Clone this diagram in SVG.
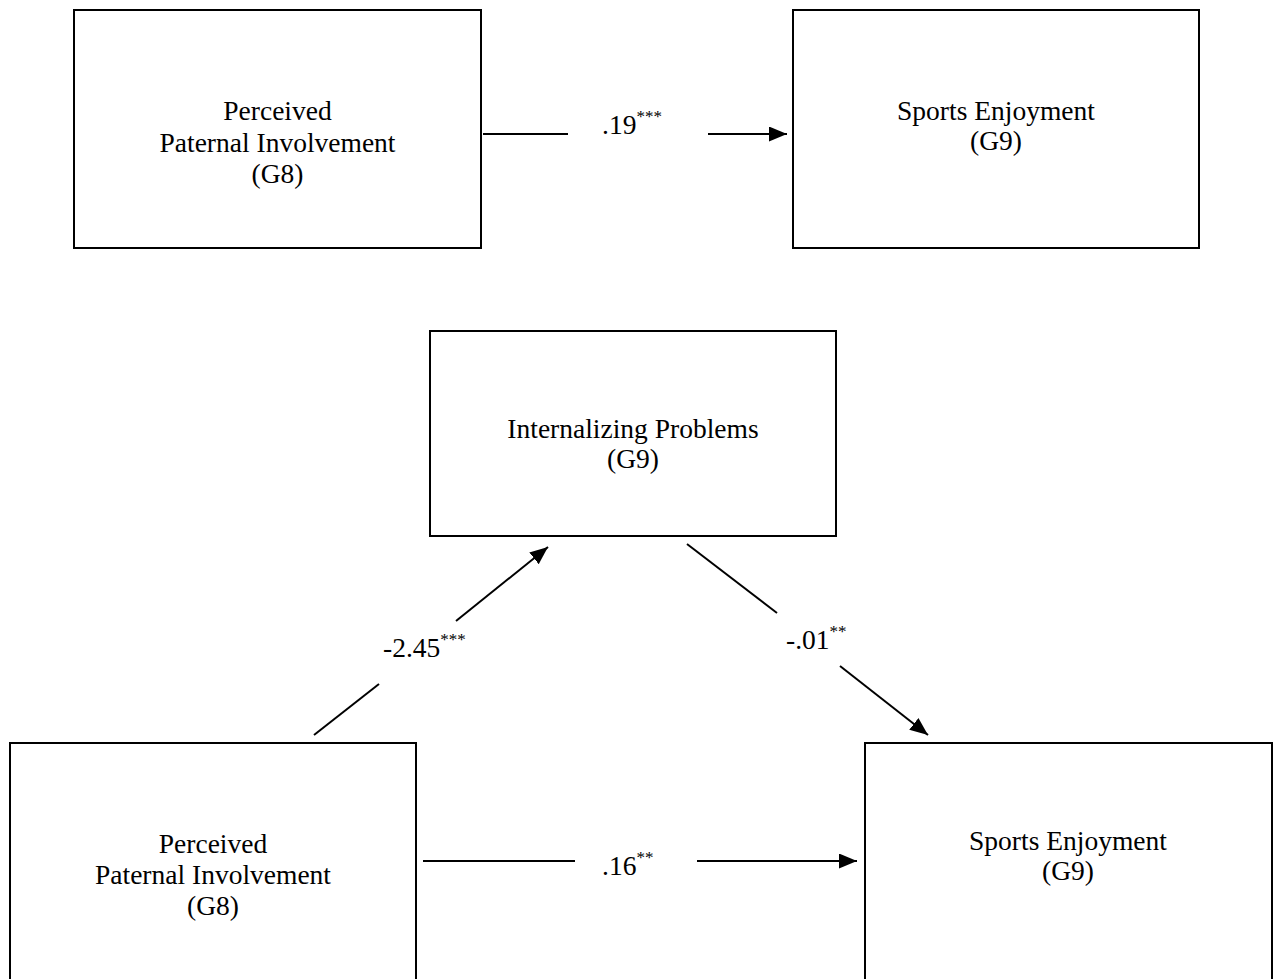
<svg xmlns="http://www.w3.org/2000/svg" width="1277" height="979" viewBox="0 0 1277 979">
  <style>
    .box { fill: #fff; stroke: #000; stroke-width: 2; }
    .lbl { font-family: "Liberation Serif", "Times New Roman", serif; font-size: 27.5px; fill: #000; }
    .node { text-anchor: middle; }
    .sup { font-size: 17px; }
    .edge { stroke: #000; stroke-width: 2; fill: none; }
  </style>
  <defs>
    <marker id="arrow" markerUnits="userSpaceOnUse" markerWidth="19" markerHeight="16" refX="18" refY="7.5" orient="auto">
      <path d="M0,0 L18,7.5 L0,15 Z" fill="#000"/>
    </marker>
  </defs>
  <rect width="1277" height="979" fill="#fff"/>

  <!-- Model without mediator -->
  <g id="ppi-top">
    <rect class="box" x="74" y="10" width="407" height="238"/>
    <text class="lbl node" x="277.5" y="120">Perceived</text>
    <text class="lbl node" x="277.5" y="152">Paternal Involvement</text>
    <text class="lbl node" x="277.5" y="183">(G8)</text>
  </g>
  <g id="enjoy-top">
    <rect class="box" x="793" y="10" width="406" height="238"/>
    <text class="lbl node" x="996" y="120">Sports Enjoyment</text>
    <text class="lbl node" x="996" y="150">(G9)</text>
  </g>

  <!-- Mediation model -->
  <g id="internalizing">
    <rect class="box" x="430" y="331" width="406" height="205"/>
    <text class="lbl node" x="633" y="438">Internalizing Problems</text>
    <text class="lbl node" x="633" y="468">(G9)</text>
  </g>
  <g id="ppi-bottom">
    <rect class="box" x="10" y="743" width="406" height="260"/>
    <text class="lbl node" x="213" y="853">Perceived</text>
    <text class="lbl node" x="213" y="884">Paternal Involvement</text>
    <text class="lbl node" x="213" y="915">(G8)</text>
  </g>
  <g id="enjoy-bottom">
    <rect class="box" x="865" y="743" width="407" height="260"/>
    <text class="lbl node" x="1068" y="850">Sports Enjoyment</text>
    <text class="lbl node" x="1068" y="880">(G9)</text>
  </g>

  <g id="connectors">
    <!-- top path -->
    <line class="edge" x1="483" y1="134" x2="568" y2="134"/>
    <line class="edge" x1="708" y1="134" x2="787" y2="134" marker-end="url(#arrow)"/>
    <text class="lbl" x="602" y="134">.19<tspan class="sup" dy="-12">***</tspan></text>

    <!-- a path -->
    <line class="edge" x1="314" y1="735" x2="379" y2="684"/>
    <line class="edge" x1="456" y1="621" x2="548" y2="547" marker-end="url(#arrow)"/>
    <text class="lbl" x="383" y="657">-2.45<tspan class="sup" dy="-12">***</tspan></text>

    <!-- b path -->
    <line class="edge" x1="687" y1="544" x2="777" y2="613"/>
    <line class="edge" x1="840" y1="666" x2="928" y2="735" marker-end="url(#arrow)"/>
    <text class="lbl" x="786" y="649">-.01<tspan class="sup" dy="-12">**</tspan></text>

    <!-- c' path -->
    <line class="edge" x1="423" y1="861" x2="575" y2="861"/>
    <line class="edge" x1="697" y1="861" x2="857" y2="861" marker-end="url(#arrow)"/>
    <text class="lbl" x="602" y="875">.16<tspan class="sup" dy="-12">**</tspan></text>
  </g>
</svg>
